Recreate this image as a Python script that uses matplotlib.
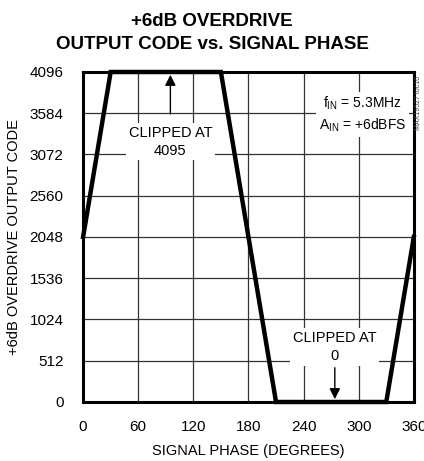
import matplotlib.pyplot as plt

# clipped sine
phase = [0, 30, 150, 210, 330, 360]
code = [2048, 4095, 4095, 0, 0, 2048]

xticks = [0, 60, 120, 180, 240, 300, 360]
yticks = [0, 512, 1024, 1536, 2048, 2560, 3072, 3584, 4096]

plt.rcParams['font.family'] = ['Liberation Sans', 'DejaVu Sans']

fig = plt.figure(figsize=(4.24, 4.61), dpi=100)
ax = fig.add_axes([0.196, 0.128, 0.780, 0.716])

ax.plot(phase, code, color='black', linewidth=3.2, solid_joinstyle='miter', zorder=3, clip_on=False)

ax.set_xlim(0, 360)
ax.set_ylim(0, 4096)
ax.set_xticks(xticks)
ax.set_yticks(yticks)
ax.tick_params(axis='x', length=0, labelsize=11, pad=13)
ax.tick_params(axis='y', length=0, labelsize=11, pad=14)
ax.grid(True, color='#333333', linewidth=0.9)
ax.set_axisbelow(True)
for s in ax.spines.values():
    s.set_linewidth(2.2)

ax.set_xlabel('SIGNAL PHASE (DEGREES)', fontsize=10.5, labelpad=7)
ax.set_ylabel('+6dB OVERDRIVE OUTPUT CODE', fontsize=10.5, labelpad=6)
fig.suptitle('+6dB OVERDRIVE\nOUTPUT CODE vs. SIGNAL PHASE', fontsize=13.5,
             fontweight='bold', y=0.972, linespacing=1.45)

box = dict(facecolor='white', edgecolor='none', pad=2)
ax.text(95, 3230, 'CLIPPED AT\n4095', ha='center', va='center', fontsize=10.5,
        bbox=box, zorder=4, linespacing=1.35)
ax.annotate('', xy=(95, 4095), xytext=(95, 3540),
            arrowprops=dict(arrowstyle='-|>', color='black', lw=1, mutation_scale=16), zorder=4)

ax.text(274, 680, 'CLIPPED AT\n0', ha='center', va='center', fontsize=10.5,
        bbox=box, zorder=4, linespacing=1.35)
ax.annotate('', xy=(274, 0), xytext=(274, 460),
            arrowprops=dict(arrowstyle='-|>', color='black', lw=1, mutation_scale=16), zorder=4)

ax.text(304, 3570, '$\\mathregular{f_{IN}}$ = 5.3MHz\n$\\mathregular{A_{IN}}$ = +6dBFS',
        ha='center', va='center', fontsize=10, bbox=box, zorder=4, linespacing=1.35)

fig.text(0.988, 0.835, 'MAX19527 toc16', rotation=90, ha='center', va='top',
         fontsize=5, color='#444444')

fig.savefig('out.png', dpi=100)
